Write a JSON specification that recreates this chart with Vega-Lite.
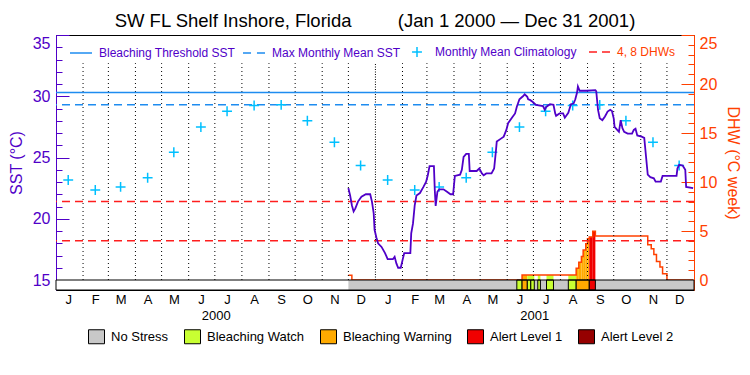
{
  "$schema": "https://vega.github.io/schema/vega-lite/v6.json",
  "width": 638,
  "height": 255,
  "autosize": {"type": "none"},
  "padding": {"left": 56, "top": 35, "right": 56, "bottom": 85},
  "background": "white",
  "config": {
    "font": "Liberation Sans",
    "view": {"stroke": "black", "strokeWidth": 1},
    "axis": {"labelFont": "Liberation Sans", "titleFont": "Liberation Sans", "titleFontWeight": "normal", "labelOverlap": false, "labelBound": false},
    "legend": {"labelFont": "Liberation Sans"}
  },
  "title": {
    "text": "SW FL Shelf Inshore, Florida\u00a0\u00a0\u00a0\u00a0\u00a0\u00a0\u00a0\u00a0\u00a0(Jan 1 2000 \u2014 Dec 31 2001)",
    "fontSize": 18.5, "fontWeight": "normal", "font": "Liberation Sans", "color": "black",
    "anchor": "middle", "frame": "group", "offset": 4
  },
  "datasets": {
    "sst": [
      {"date": "2000-12-01", "sst": 22.5}, {"date": "2000-12-03", "sst": 21.9}, {"date": "2000-12-05", "sst": 21.1},
      {"date": "2000-12-07", "sst": 20.6}, {"date": "2000-12-09", "sst": 20.85}, {"date": "2000-12-12", "sst": 21.4},
      {"date": "2000-12-16", "sst": 21.8}, {"date": "2000-12-21", "sst": 22.0}, {"date": "2000-12-26", "sst": 22.0},
      {"date": "2000-12-28", "sst": 21.4}, {"date": "2000-12-30", "sst": 20.45}, {"date": "2000-12-31", "sst": 19.1},
      {"date": "2001-01-02", "sst": 18.5}, {"date": "2001-01-04", "sst": 18.0}, {"date": "2001-01-08", "sst": 17.7},
      {"date": "2001-01-12", "sst": 17.2}, {"date": "2001-01-15", "sst": 16.7}, {"date": "2001-01-21", "sst": 16.7},
      {"date": "2001-01-23", "sst": 16.9}, {"date": "2001-01-25", "sst": 16.35}, {"date": "2001-01-27", "sst": 16.0},
      {"date": "2001-01-30", "sst": 16.0}, {"date": "2001-02-01", "sst": 16.6}, {"date": "2001-02-03", "sst": 17.2},
      {"date": "2001-02-10", "sst": 17.2}, {"date": "2001-02-11", "sst": 18.8}, {"date": "2001-02-13", "sst": 19.6},
      {"date": "2001-02-15", "sst": 21.1}, {"date": "2001-02-17", "sst": 21.9}, {"date": "2001-02-21", "sst": 22.1},
      {"date": "2001-02-25", "sst": 22.6}, {"date": "2001-02-28", "sst": 23.0}, {"date": "2001-03-02", "sst": 23.55},
      {"date": "2001-03-04", "sst": 24.3}, {"date": "2001-03-09", "sst": 24.3}, {"date": "2001-03-10", "sst": 22.35},
      {"date": "2001-03-11", "sst": 21.05}, {"date": "2001-03-13", "sst": 22.2}, {"date": "2001-03-15", "sst": 22.4},
      {"date": "2001-03-20", "sst": 22.4}, {"date": "2001-03-24", "sst": 22.2}, {"date": "2001-03-28", "sst": 22.0},
      {"date": "2001-03-31", "sst": 22.0}, {"date": "2001-04-02", "sst": 23.5}, {"date": "2001-04-08", "sst": 23.6},
      {"date": "2001-04-10", "sst": 24.0}, {"date": "2001-04-12", "sst": 25.05}, {"date": "2001-04-15", "sst": 25.3},
      {"date": "2001-04-18", "sst": 25.3}, {"date": "2001-04-19", "sst": 23.9}, {"date": "2001-04-27", "sst": 23.9},
      {"date": "2001-04-30", "sst": 24.1}, {"date": "2001-05-03", "sst": 23.7}, {"date": "2001-05-05", "sst": 23.55},
      {"date": "2001-05-08", "sst": 23.7}, {"date": "2001-05-14", "sst": 23.7}, {"date": "2001-05-17", "sst": 24.1},
      {"date": "2001-05-19", "sst": 25.5}, {"date": "2001-05-20", "sst": 26.3}, {"date": "2001-05-24", "sst": 26.5},
      {"date": "2001-05-28", "sst": 26.7}, {"date": "2001-05-31", "sst": 27.25}, {"date": "2001-06-02", "sst": 27.8},
      {"date": "2001-06-07", "sst": 28.3}, {"date": "2001-06-10", "sst": 28.6}, {"date": "2001-06-12", "sst": 29.15},
      {"date": "2001-06-15", "sst": 29.75}, {"date": "2001-06-19", "sst": 30.0}, {"date": "2001-06-21", "sst": 30.16},
      {"date": "2001-06-24", "sst": 29.95}, {"date": "2001-06-25", "sst": 29.75}, {"date": "2001-06-27", "sst": 29.7},
      {"date": "2001-06-30", "sst": 29.55}, {"date": "2001-07-04", "sst": 29.3}, {"date": "2001-07-12", "sst": 29.2},
      {"date": "2001-07-14", "sst": 28.9}, {"date": "2001-07-16", "sst": 29.15}, {"date": "2001-07-20", "sst": 29.35},
      {"date": "2001-07-24", "sst": 29.3}, {"date": "2001-07-26", "sst": 28.6}, {"date": "2001-07-27", "sst": 28.4},
      {"date": "2001-07-31", "sst": 28.6}, {"date": "2001-08-04", "sst": 28.6}, {"date": "2001-08-06", "sst": 28.25},
      {"date": "2001-08-10", "sst": 28.65}, {"date": "2001-08-13", "sst": 29.35}, {"date": "2001-08-16", "sst": 29.4},
      {"date": "2001-08-18", "sst": 29.75}, {"date": "2001-08-20", "sst": 30.3}, {"date": "2001-08-21", "sst": 30.8},
      {"date": "2001-08-23", "sst": 30.45}, {"date": "2001-08-31", "sst": 30.45}, {"date": "2001-09-10", "sst": 30.5},
      {"date": "2001-09-11", "sst": 30.4}, {"date": "2001-09-13", "sst": 28.9}, {"date": "2001-09-15", "sst": 28.2},
      {"date": "2001-09-18", "sst": 28.05}, {"date": "2001-09-21", "sst": 28.35}, {"date": "2001-09-24", "sst": 28.75},
      {"date": "2001-09-27", "sst": 28.9}, {"date": "2001-09-29", "sst": 28.8}, {"date": "2001-10-01", "sst": 28.2},
      {"date": "2001-10-02", "sst": 27.5}, {"date": "2001-10-05", "sst": 27.25}, {"date": "2001-10-07", "sst": 27.1},
      {"date": "2001-10-09", "sst": 28.05}, {"date": "2001-10-11", "sst": 27.4}, {"date": "2001-10-13", "sst": 27.1},
      {"date": "2001-10-17", "sst": 26.95}, {"date": "2001-10-22", "sst": 26.95}, {"date": "2001-10-24", "sst": 27.25},
      {"date": "2001-10-26", "sst": 27.35}, {"date": "2001-10-28", "sst": 26.8}, {"date": "2001-11-02", "sst": 26.7},
      {"date": "2001-11-05", "sst": 26.6}, {"date": "2001-11-07", "sst": 25.1}, {"date": "2001-11-09", "sst": 23.6},
      {"date": "2001-11-12", "sst": 23.4}, {"date": "2001-11-16", "sst": 23.3}, {"date": "2001-11-18", "sst": 23.03},
      {"date": "2001-11-24", "sst": 23.03}, {"date": "2001-11-26", "sst": 23.5}, {"date": "2001-12-12", "sst": 23.5},
      {"date": "2001-12-13", "sst": 24.1}, {"date": "2001-12-15", "sst": 24.4}, {"date": "2001-12-19", "sst": 24.35},
      {"date": "2001-12-22", "sst": 24.0}, {"date": "2001-12-23", "sst": 22.6}, {"date": "2001-12-31", "sst": 22.5}
    ],
    "clim": [
      {"date": "2000-01-15", "value": 23.16, "series": "Monthly Mean Climatology"},
      {"date": "2000-02-15", "value": 22.35, "series": "Monthly Mean Climatology"},
      {"date": "2000-03-15", "value": 22.6, "series": "Monthly Mean Climatology"},
      {"date": "2000-04-15", "value": 23.35, "series": "Monthly Mean Climatology"},
      {"date": "2000-05-15", "value": 25.43, "series": "Monthly Mean Climatology"},
      {"date": "2000-06-15", "value": 27.48, "series": "Monthly Mean Climatology"},
      {"date": "2000-07-15", "value": 28.77, "series": "Monthly Mean Climatology"},
      {"date": "2000-08-15", "value": 29.25, "series": "Monthly Mean Climatology"},
      {"date": "2000-09-15", "value": 29.3, "series": "Monthly Mean Climatology"},
      {"date": "2000-10-15", "value": 28.0, "series": "Monthly Mean Climatology"},
      {"date": "2000-11-15", "value": 26.25, "series": "Monthly Mean Climatology"},
      {"date": "2000-12-15", "value": 24.35, "series": "Monthly Mean Climatology"},
      {"date": "2001-01-15", "value": 23.16, "series": "Monthly Mean Climatology"},
      {"date": "2001-02-15", "value": 22.35, "series": "Monthly Mean Climatology"},
      {"date": "2001-03-15", "value": 22.6, "series": "Monthly Mean Climatology"},
      {"date": "2001-04-15", "value": 23.35, "series": "Monthly Mean Climatology"},
      {"date": "2001-05-15", "value": 25.43, "series": "Monthly Mean Climatology"},
      {"date": "2001-06-15", "value": 27.48, "series": "Monthly Mean Climatology"},
      {"date": "2001-07-15", "value": 28.77, "series": "Monthly Mean Climatology"},
      {"date": "2001-08-15", "value": 29.25, "series": "Monthly Mean Climatology"},
      {"date": "2001-09-15", "value": 29.3, "series": "Monthly Mean Climatology"},
      {"date": "2001-10-15", "value": 28.0, "series": "Monthly Mean Climatology"},
      {"date": "2001-11-15", "value": 26.25, "series": "Monthly Mean Climatology"},
      {"date": "2001-12-15", "value": 24.35, "series": "Monthly Mean Climatology"}
    ],
    "months": [
      {"date": "2000-02-01"}, {"date": "2000-03-01"}, {"date": "2000-04-01"}, {"date": "2000-05-01"},
      {"date": "2000-06-01"}, {"date": "2000-07-01"}, {"date": "2000-08-01"}, {"date": "2000-09-01"},
      {"date": "2000-10-01"}, {"date": "2000-11-01"}, {"date": "2000-12-01"},
      {"date": "2001-02-01"}, {"date": "2001-03-01"}, {"date": "2001-04-01"}, {"date": "2001-05-01"},
      {"date": "2001-06-01"}, {"date": "2001-07-01"}, {"date": "2001-08-01"}, {"date": "2001-09-01"},
      {"date": "2001-10-01"}, {"date": "2001-11-01"}, {"date": "2001-12-01"}
    ],
    "years": [{"date": "2001-01-01"}],
    "thresh": [{"series": "Bleaching Threshold SST", "value": 30.3}],
    "mmm": [{"series": "Max Monthly Mean SST", "value": 29.3}],
    "dhwThresh": [{"series": "4, 8 DHWs", "value": 4}, {"series": "4, 8 DHWs", "value": 8}],
    "frame": [{"date": "2000-01-01", "end": "2002-01-01"}],
    "stress": [
      {"date": "2000-12-01", "end": "2001-06-12", "level": "No Stress"},
      {"date": "2001-06-12", "end": "2001-06-18", "level": "Bleaching Watch"},
      {"date": "2001-06-18", "end": "2001-06-24", "level": "Bleaching Warning"},
      {"date": "2001-06-24", "end": "2001-06-28", "level": "Bleaching Watch"},
      {"date": "2001-06-28", "end": "2001-07-02", "level": "Bleaching Watch"},
      {"date": "2001-07-02", "end": "2001-07-06", "level": "No Stress"},
      {"date": "2001-07-06", "end": "2001-07-09", "level": "Bleaching Watch"},
      {"date": "2001-07-09", "end": "2001-07-16", "level": "No Stress"},
      {"date": "2001-07-16", "end": "2001-07-24", "level": "Bleaching Watch"},
      {"date": "2001-07-24", "end": "2001-08-10", "level": "No Stress"},
      {"date": "2001-08-10", "end": "2001-08-19", "level": "Bleaching Watch"},
      {"date": "2001-08-19", "end": "2001-09-03", "level": "Bleaching Warning"},
      {"date": "2001-09-03", "end": "2001-09-10", "level": "Alert Level 1"},
      {"date": "2001-09-10", "end": "2002-01-01", "level": "No Stress"}
    ],
    "dhw": [
      {"date": "2000-12-01", "dhw": 0.48}, {"date": "2000-12-05", "dhw": 0},
      {"date": "2001-06-18", "dhw": 0.5}, {"date": "2001-08-19", "dhw": 1.2},
      {"date": "2001-08-22", "dhw": 1.8}, {"date": "2001-08-25", "dhw": 2.4},
      {"date": "2001-08-27", "dhw": 3.05}, {"date": "2001-08-30", "dhw": 3.7},
      {"date": "2001-09-01", "dhw": 4.2}, {"date": "2001-09-03", "dhw": 4.4},
      {"date": "2001-09-07", "dhw": 4.97}, {"date": "2001-09-10", "dhw": 4.5},
      {"date": "2001-11-09", "dhw": 3.6}, {"date": "2001-11-13", "dhw": 3.2},
      {"date": "2001-11-16", "dhw": 2.6}, {"date": "2001-11-19", "dhw": 1.9},
      {"date": "2001-11-23", "dhw": 1.33}, {"date": "2001-11-26", "dhw": 0.65},
      {"date": "2001-12-01", "dhw": 0}, {"date": "2001-12-31", "dhw": 0}
    ],
    "dhwFill": [
      {"date": "2001-06-18", "end": "2001-06-24", "dhw": 0.5, "level": "Bleaching Warning"},
      {"date": "2001-06-24", "end": "2001-07-02", "dhw": 0.5, "level": "Bleaching Watch"},
      {"date": "2001-07-06", "end": "2001-07-09", "dhw": 0.5, "level": "Bleaching Watch"},
      {"date": "2001-07-16", "end": "2001-07-24", "dhw": 0.5, "level": "Bleaching Watch"},
      {"date": "2001-08-10", "end": "2001-08-19", "dhw": 0.5, "level": "Bleaching Watch"},
      {"date": "2001-08-19", "end": "2001-08-22", "dhw": 1.2, "level": "Bleaching Warning"},
      {"date": "2001-08-22", "end": "2001-08-25", "dhw": 1.8, "level": "Bleaching Warning"},
      {"date": "2001-08-25", "end": "2001-08-27", "dhw": 2.4, "level": "Bleaching Warning"},
      {"date": "2001-08-27", "end": "2001-08-30", "dhw": 3.05, "level": "Bleaching Warning"},
      {"date": "2001-08-30", "end": "2001-09-01", "dhw": 3.7, "level": "Bleaching Warning"},
      {"date": "2001-09-01", "end": "2001-09-03", "dhw": 4.2, "level": "Bleaching Warning"},
      {"date": "2001-09-03", "end": "2001-09-07", "dhw": 4.4, "level": "Alert Level 1"},
      {"date": "2001-09-07", "end": "2001-09-10", "dhw": 4.97, "level": "Alert Level 1"}
    ]
  },
  "resolve": {"scale": {"y": "independent"}},
  "layer": [
    {
      "layer": [
        {
          "data": {"name": "dhwFill"},
          "mark": {"type": "rect"},
          "encoding": {
            "x": {"field": "date", "type": "temporal", "scale": {"type": "utc", "domain": [{"year": 2000, "month": 1, "date": 1, "utc": true}, {"year": 2002, "month": 1, "date": 1, "utc": true}]}},
            "x2": {"field": "end"},
            "y": {"field": "dhw", "type": "quantitative", "scale": {"domain": [-1.0204, 25], "nice": false, "zero": false}},
            "y2": {"datum": 0},
            "fill": {"field": "level", "type": "nominal",
              "scale": {"domain": ["No Stress", "Bleaching Watch", "Bleaching Warning", "Alert Level 1", "Alert Level 2"], "range": ["#c8c8c8", "#c8ff32", "#ffaa00", "#f00000", "#960000"]}
            }
          }
        },
        {
          "data": {"name": "dhw"},
          "mark": {"type": "line", "interpolate": "step-after", "color": "#ff4000", "strokeWidth": 1.5},
          "encoding": {
            "x": {"field": "date", "type": "temporal", "scale": {"type": "utc", "domain": [{"year": 2000, "month": 1, "date": 1, "utc": true}, {"year": 2002, "month": 1, "date": 1, "utc": true}]}},
            "y": {"field": "dhw", "type": "quantitative", "scale": {"domain": [-1.0204, 25], "nice": false, "zero": false}}
          }
        },
        {
          "data": {"name": "dhwThresh"},
          "mark": {"type": "rule", "strokeWidth": 1.5, "color": "#ff1e1e"},
          "encoding": {
            "y": {"field": "value", "type": "quantitative", "scale": {"domain": [-1.0204, 25], "nice": false, "zero": false},
              "axis": {"orient": "right", "values": [0,1,2,3,4,5,6,7,8,9,10,11,12,13,14,15,16,17,18,19,20,21,22,23,24,25],
                "tickCount": 200, "format": "d",
                "labelExpr": "datum.value % 5 === 0 ? format(datum.value, 'd') : ''",
                "labelFontSize": {"condition": {"test": "datum.value % 5 !== 0", "value": 0}, "value": 16},
                "tickSize": {"condition": {"test": "datum.value % 5 === 0", "value": -13}, "value": -6},
                "labelPadding": 18, "labelFlush": true, "labelOverlap": false,
                "labelColor": "#ff4000", "tickColor": "#ff4000", "domainColor": "#ff4000", "tickWidth": 1, "domainWidth": 1,
                "grid": false, "title": "DHW (\u00b0C week)", "titleColor": "#ff4000", "titleFontSize": 16, "titlePadding": 8}},
            "strokeDash": {"field": "series", "type": "nominal",
              "scale": {"domain": ["4, 8 DHWs"], "range": [[8, 5]]},
              "legend": {"title": null, "orient": "none", "legendX": 532, "legendY": 5, "direction": "horizontal", "symbolType": "stroke", "symbolSize": 484, "symbolStrokeWidth": 1.5, "symbolStrokeColor": "#ff1e1e", "labelFontSize": 12, "labelOffset": 5, "labelColor": "#ff4000", "padding": 0}}
          }
        }
      ]
    },
    {
      "layer": [
        {
          "data": {"name": "months"},
          "mark": {"type": "rule", "strokeDash": [1, 3], "color": "black", "strokeWidth": 1},
          "encoding": {
            "x": {"field": "date", "type": "temporal", "scale": {"type": "utc", "domain": [{"year": 2000, "month": 1, "date": 1, "utc": true}, {"year": 2002, "month": 1, "date": 1, "utc": true}]}},
            "y": {"datum": 15, "type": "quantitative", "scale": {"domain": [14.1837, 35], "nice": false, "zero": false}},
            "y2": {"datum": 32.7}
          }
        },
        {
          "data": {"name": "years"},
          "mark": {"type": "rule", "strokeDash": [1, 1.5], "color": "black", "strokeWidth": 1},
          "encoding": {
            "x": {"field": "date", "type": "temporal", "scale": {"type": "utc", "domain": [{"year": 2000, "month": 1, "date": 1, "utc": true}, {"year": 2002, "month": 1, "date": 1, "utc": true}]}},
            "y": {"datum": 15, "type": "quantitative", "scale": {"domain": [14.1837, 35], "nice": false, "zero": false}},
            "y2": {"datum": 32.7}
          }
        },
        {
          "data": {"name": "thresh"},
          "mark": {"type": "rule", "strokeWidth": 1.5},
          "encoding": {
            "y": {"field": "value", "type": "quantitative", "scale": {"domain": [14.1837, 35], "nice": false, "zero": false},
              "axis": {"orient": "left", "values": [15,16,17,18,19,20,21,22,23,24,25,26,27,28,29,30,31,32,33,34,35],
                "tickCount": 200, "format": "d",
                "labelExpr": "datum.value % 5 === 0 ? format(datum.value, 'd') : ''",
                "labelFontSize": {"condition": {"test": "datum.value % 5 !== 0", "value": 0}, "value": 16},
                "tickSize": {"condition": {"test": "datum.value % 5 === 0", "value": -13}, "value": -6},
                "labelPadding": 19, "labelFlush": true, "labelOverlap": false,
                "labelColor": "#5000c8", "tickColor": "#5000c8", "domainColor": "#5000c8", "tickWidth": 1, "domainWidth": 1,
                "grid": false, "title": "SST (\u00b0C)", "titleColor": "#5000c8", "titleFontSize": 16, "titlePadding": 8}},
            "stroke": {"field": "series", "type": "nominal",
              "scale": {"domain": ["Bleaching Threshold SST", "Max Monthly Mean SST", "Monthly Mean Climatology"], "range": ["#1e8cf0", "#1e8cf0", "#00c0ff"]}}
          }
        },
        {
          "data": {"name": "mmm"},
          "mark": {"type": "rule", "strokeWidth": 1.5, "strokeDash": [8, 5]},
          "encoding": {
            "y": {"field": "value", "type": "quantitative", "scale": {"domain": [14.1837, 35], "nice": false, "zero": false}},
            "stroke": {"field": "series", "type": "nominal",
              "scale": {"domain": ["Bleaching Threshold SST", "Max Monthly Mean SST", "Monthly Mean Climatology"], "range": ["#1e8cf0", "#1e8cf0", "#00c0ff"]}}
          }
        },
        {
          "data": {"name": "clim"},
          "mark": {"type": "point", "filled": false, "size": 484, "strokeWidth": 1.5, "opacity": 1},
          "encoding": {
            "x": {"field": "date", "type": "temporal", "scale": {"type": "utc", "domain": [{"year": 2000, "month": 1, "date": 1, "utc": true}, {"year": 2002, "month": 1, "date": 1, "utc": true}]}},
            "y": {"field": "value", "type": "quantitative", "scale": {"domain": [14.1837, 35], "nice": false, "zero": false}},
            "stroke": {"field": "series", "type": "nominal",
              "scale": {"domain": ["Bleaching Threshold SST", "Max Monthly Mean SST", "Monthly Mean Climatology"], "range": ["#1e8cf0", "#1e8cf0", "#00c0ff"]},
              "legend": {"title": null, "orient": "none", "legendX": 13, "legendY": 5, "direction": "horizontal", "columns": 3, "columnPadding": 4, "symbolSize": 484, "symbolStrokeWidth": 1.5, "labelFontSize": 12, "labelOffset": 6, "labelColor": "#5000c8", "padding": 0}},
            "shape": {"field": "series", "type": "nominal",
              "scale": {"domain": ["Bleaching Threshold SST", "Max Monthly Mean SST", "Monthly Mean Climatology"], "range": ["M-1,0H1", "M-1,0H-0.27M0.27,0H1", "M-0.45,0H0.45M0,-0.45V0.45"]},
              "legend": {"title": null, "orient": "none", "legendX": 13, "legendY": 5, "direction": "horizontal", "columns": 3, "columnPadding": 4, "symbolSize": 484, "symbolStrokeWidth": 1.5, "labelFontSize": 12, "labelOffset": 6, "labelColor": "#5000c8", "padding": 0}}
          }
        },
        {
          "data": {"name": "sst"},
          "mark": {"type": "line", "color": "#5000c8", "strokeWidth": 1.8},
          "encoding": {
            "x": {"field": "date", "type": "temporal", "scale": {"type": "utc", "domain": [{"year": 2000, "month": 1, "date": 1, "utc": true}, {"year": 2002, "month": 1, "date": 1, "utc": true}]}},
            "y": {"field": "sst", "type": "quantitative", "scale": {"domain": [14.1837, 35], "nice": false, "zero": false}}
          }
        },
        {
          "data": {"name": "frame"},
          "mark": {"type": "rect", "fill": "white"},
          "encoding": {
            "x": {"field": "date", "type": "temporal", "scale": {"type": "utc", "domain": [{"year": 2000, "month": 1, "date": 1, "utc": true}, {"year": 2002, "month": 1, "date": 1, "utc": true}]}},
            "x2": {"field": "end"},
            "y": {"datum": 14.1837, "type": "quantitative", "scale": {"domain": [14.1837, 35], "nice": false, "zero": false}},
            "y2": {"datum": 15}
          }
        },
        {
          "data": {"name": "stress"},
          "transform": [{"filter": "datum.level === 'No Stress'"}],
          "mark": {"type": "rect"},
          "encoding": {
            "x": {"field": "date", "type": "temporal", "scale": {"type": "utc", "domain": [{"year": 2000, "month": 1, "date": 1, "utc": true}, {"year": 2002, "month": 1, "date": 1, "utc": true}]}},
            "x2": {"field": "end"},
            "y": {"datum": 14.1837, "type": "quantitative", "scale": {"domain": [14.1837, 35], "nice": false, "zero": false}},
            "y2": {"datum": 15},
            "fill": {"field": "level", "type": "nominal",
              "scale": {"domain": ["No Stress", "Bleaching Watch", "Bleaching Warning", "Alert Level 1", "Alert Level 2"], "range": ["#c8c8c8", "#c8ff32", "#ffaa00", "#f00000", "#960000"]},
              "legend": {"title": null, "orient": "none", "legendX": 32, "legendY": 293, "direction": "horizontal", "columns": 5, "columnPadding": 13, "symbolType": "M-1,-0.875H1V0.875H-1Z", "symbolSize": 256, "symbolStrokeColor": "black", "symbolStrokeWidth": 1, "symbolOpacity": 1, "labelFontSize": 13, "labelOffset": 6, "labelColor": "black", "padding": 0}
            }
          }
        },
        {
          "data": {"name": "stress"},
          "transform": [{"filter": "datum.level !== 'No Stress'"}],
          "mark": {"type": "rect", "stroke": "black", "strokeWidth": 1},
          "encoding": {
            "x": {"field": "date", "type": "temporal", "scale": {"type": "utc", "domain": [{"year": 2000, "month": 1, "date": 1, "utc": true}, {"year": 2002, "month": 1, "date": 1, "utc": true}]}},
            "x2": {"field": "end"},
            "y": {"datum": 14.1837, "type": "quantitative", "scale": {"domain": [14.1837, 35], "nice": false, "zero": false}},
            "y2": {"datum": 15},
            "fill": {"field": "level", "type": "nominal",
              "scale": {"domain": ["No Stress", "Bleaching Watch", "Bleaching Warning", "Alert Level 1", "Alert Level 2"], "range": ["#c8c8c8", "#c8ff32", "#ffaa00", "#f00000", "#960000"]}
            }
          }
        },
        {
          "data": {"name": "frame"},
          "mark": {"type": "rect", "fill": "transparent", "stroke": "black", "strokeWidth": 1},
          "encoding": {
            "x": {"field": "date", "type": "temporal", "scale": {"type": "utc", "domain": [{"year": 2000, "month": 1, "date": 1, "utc": true}, {"year": 2002, "month": 1, "date": 1, "utc": true}]},
              "axis": {"orient": "bottom", "values": [
                {"year": 2000, "month": 1, "date": 15, "utc": true}, {"year": 2000, "month": 2, "date": 15, "utc": true},
                {"year": 2000, "month": 3, "date": 15, "utc": true}, {"year": 2000, "month": 4, "date": 15, "utc": true},
                {"year": 2000, "month": 5, "date": 15, "utc": true}, {"year": 2000, "month": 6, "date": 15, "utc": true},
                {"year": 2000, "month": 7, "date": 2, "utc": true},
                {"year": 2000, "month": 7, "date": 15, "utc": true}, {"year": 2000, "month": 8, "date": 15, "utc": true},
                {"year": 2000, "month": 9, "date": 15, "utc": true}, {"year": 2000, "month": 10, "date": 15, "utc": true},
                {"year": 2000, "month": 11, "date": 15, "utc": true}, {"year": 2000, "month": 12, "date": 15, "utc": true},
                {"year": 2001, "month": 1, "date": 15, "utc": true}, {"year": 2001, "month": 2, "date": 15, "utc": true},
                {"year": 2001, "month": 3, "date": 15, "utc": true}, {"year": 2001, "month": 4, "date": 15, "utc": true},
                {"year": 2001, "month": 5, "date": 15, "utc": true}, {"year": 2001, "month": 6, "date": 15, "utc": true},
                {"year": 2001, "month": 7, "date": 2, "utc": true},
                {"year": 2001, "month": 7, "date": 15, "utc": true}, {"year": 2001, "month": 8, "date": 15, "utc": true},
                {"year": 2001, "month": 9, "date": 15, "utc": true}, {"year": 2001, "month": 10, "date": 15, "utc": true},
                {"year": 2001, "month": 11, "date": 15, "utc": true}, {"year": 2001, "month": 12, "date": 15, "utc": true}],
                "tickCount": 200,
                "labelExpr": "utcdate(datum.value) === 2 ? utcFormat(datum.value, '%Y') : substring(utcFormat(datum.value, '%b'), 0, 1)",
                "labelPadding": {"condition": {"test": "utcdate(datum.value) === 2", "value": 19}, "value": 3},
                "ticks": false, "domain": false, "grid": false, "labelFontSize": 13, "labelColor": "black",
                "labelOverlap": false, "labelFlush": false, "labelBound": false, "labelBaseline": "top", "title": null}},
            "x2": {"field": "end"},
            "y": {"datum": 14.1837, "type": "quantitative", "scale": {"domain": [14.1837, 35], "nice": false, "zero": false}},
            "y2": {"datum": 15}
          }
        }
      ]
    }
  ]
}
